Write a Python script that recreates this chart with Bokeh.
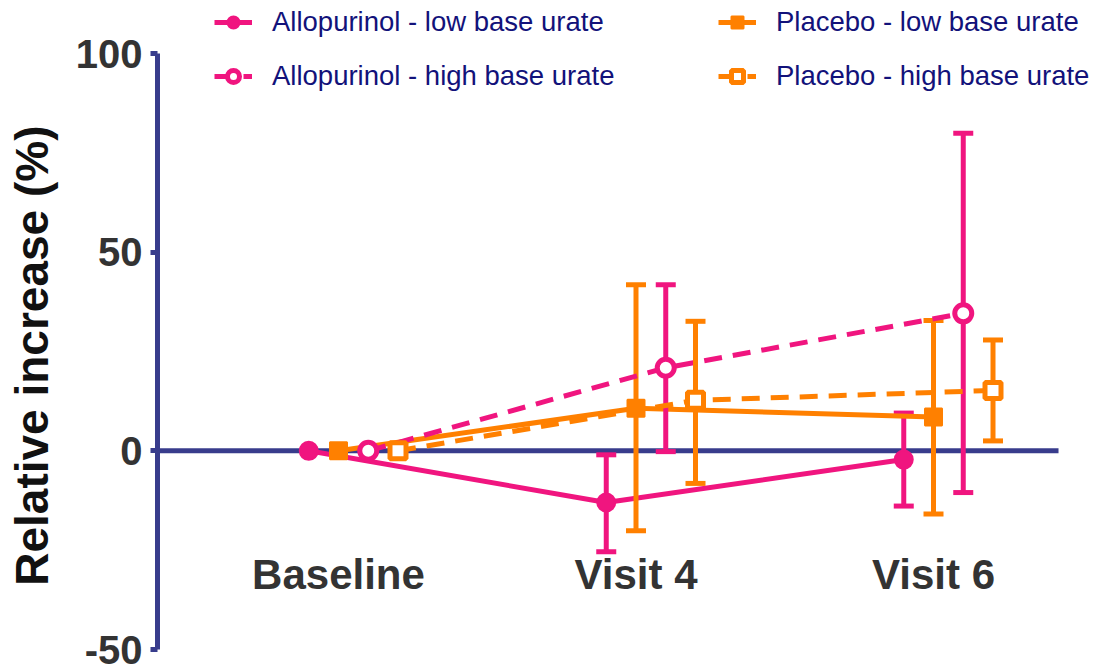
from bokeh.plotting import figure
from bokeh.models import Range1d, Legend, LegendItem, FixedTicker, ColumnDataSource, Title
from bokeh.core.properties import value
from bokeh.embed import file_html
from bokeh.resources import INLINE

# ---------------- data ----------------
categories = ["Baseline", "Visit 4", "Visit 6"]

allo_low = [0.0, -13.0, -2.2]
allo_low_lower = [0.0, -25.4, -13.9]
allo_low_upper = [0.0, -1.0, 9.5]

pla_low = [0.0, 10.7, 8.5]
pla_low_lower = [0.0, -20.1, -15.9]
pla_low_upper = [0.0, 41.8, 32.8]

allo_high = [0.0, 20.9, 34.6]
allo_high_lower = [0.0, -0.2, -10.5]
allo_high_upper = [0.0, 41.8, 79.9]

pla_high = [0.0, 12.7, 15.2]
pla_high_lower = [0.0, -8.2, 2.5]
pla_high_upper = [0.0, 32.6, 27.9]

y_ticks = [-50, 0, 50, 100]
y_tick_labels = {-50: "-50", 0: "0", 50: "50", 100: "100"}

# ---------------- style ----------------
PINK = "#F0157F"
ORANGE = "#FF8000"
NAVY = "#383C8C"
LEGEND_TXT = "#12127A"
FONT = "Liberation Sans"

X_START, X_END = 0.3916, 3.5546
ZERO_END = 3.4202  # right end of the zero line (x axis)

p = figure(width=1098, height=672,
           x_range=Range1d(X_START, X_END), y_range=Range1d(-50, 113.34),
           x_axis_location=None,
           output_backend="svg", toolbar_location=None,
           min_border_left=157, min_border_right=0,
           min_border_top=0, min_border_bottom=23)
p.outline_line_color = None
p.grid.visible = False
p.background_fill_color = "white"
p.border_fill_color = "white"

# y axis
ya = p.yaxis[0]
ya.ticker = FixedTicker(ticks=y_ticks)
ya.major_label_overrides = y_tick_labels
ya.bounds = (-50, 100)
ya.axis_line_color = NAVY
ya.axis_line_width = 5
ya.major_tick_line_color = NAVY
ya.major_tick_line_width = 5
ya.major_tick_out = 7
ya.major_tick_in = 0
ya.minor_tick_line_color = None
ya.major_label_text_font = FONT
ya.major_label_text_font_style = "bold"
ya.major_label_text_font_size = "40px"
ya.major_label_text_color = "#333333"
ya.major_label_standoff = 8
# spacer so that the rotated title sits further left
ya.axis_label = " "
ya.axis_label_text_font_size = "1px"
ya.axis_label_standoff = 11

p.add_layout(Title(text="Relative increase (%)", align="right", offset=125,
                   text_font=FONT, text_font_style="bold",
                   text_font_size="46px", text_color="#111111",
                   standoff=0), "left")

# zero line (x axis at y = 0)
p.segment(x0=[X_START], y0=[0], x1=[ZERO_END], y1=[0],
          line_color=NAVY, line_width=5)

# category labels
cat_x = [i + 1 for i in range(len(categories))]
p.text(x=cat_x, y=[-31.0] * len(categories), text=categories,
       text_font=value(FONT), text_font_style="bold",
       text_font_size="42px", text_color="#333333",
       text_align="center", text_baseline="middle")

series = [
    ("Allopurinol - low base urate", allo_low, allo_low_lower, allo_low_upper,
     PINK, -0.1, "solid", "circle", True),
    ("Placebo - low base urate", pla_low, pla_low_lower, pla_low_upper,
     ORANGE, 0.0, "solid", "square", True),
    ("Allopurinol - high base urate", allo_high, allo_high_lower, allo_high_upper,
     PINK, 0.1, "18 11", "circle", False),
    ("Placebo - high base urate", pla_high, pla_high_lower, pla_high_upper,
     ORANGE, 0.2, "18 11", "square", False),
]

items = {}
for name, ys, lo, hi, col, off, dash, mk, filled in series:
    xs = [i + 1 + off for i in range(len(ys))]
    ln = p.line(xs, ys, line_color=col, line_width=5, line_dash=dash)
    ex = [x for x, a, b in zip(xs, lo, hi) if a != b]
    elo = [a for a, b in zip(lo, hi) if a != b]
    ehi = [b for a, b in zip(lo, hi) if a != b]
    src = ColumnDataSource(dict(x=ex, lo=elo, hi=ehi))
    p.segment(x0="x", y0="lo", x1="x", y1="hi", source=src,
              line_color=col, line_width=5)
    p.scatter(x="x", y="hi", source=src, marker="dash", size=20,
              line_color=col, line_width=5)
    p.scatter(x="x", y="lo", source=src, marker="dash", size=20,
              line_color=col, line_width=5)
    if filled:
        sc = p.scatter(xs, ys, marker=mk, size=18 if mk == "circle" else 17,
                       fill_color=col, line_color=col, line_width=2)
    else:
        sc = p.scatter(xs, ys, marker=mk, size=17 if mk == "circle" else 16,
                       fill_color="white", line_color=col, line_width=5)
    items[name] = LegendItem(label=name, renderers=[ln, sc])


def make_legend(names, x):
    return Legend(items=[items[n] for n in names], location=(x, 557),
                  orientation="vertical", padding=0, margin=0, spacing=22,
                  glyph_width=38, glyph_height=30, label_height=30,
                  label_standoff=20, border_line_color=None,
                  background_fill_alpha=0,
                  label_text_font=FONT, label_text_font_size="27.5px",
                  label_text_color=LEGEND_TXT)


p.add_layout(make_legend(["Allopurinol - low base urate",
                          "Allopurinol - high base urate"], 57))
p.add_layout(make_legend(["Placebo - low base urate",
                          "Placebo - high base urate"], 561))

open("out.html", "w").write(file_html(p, INLINE))
